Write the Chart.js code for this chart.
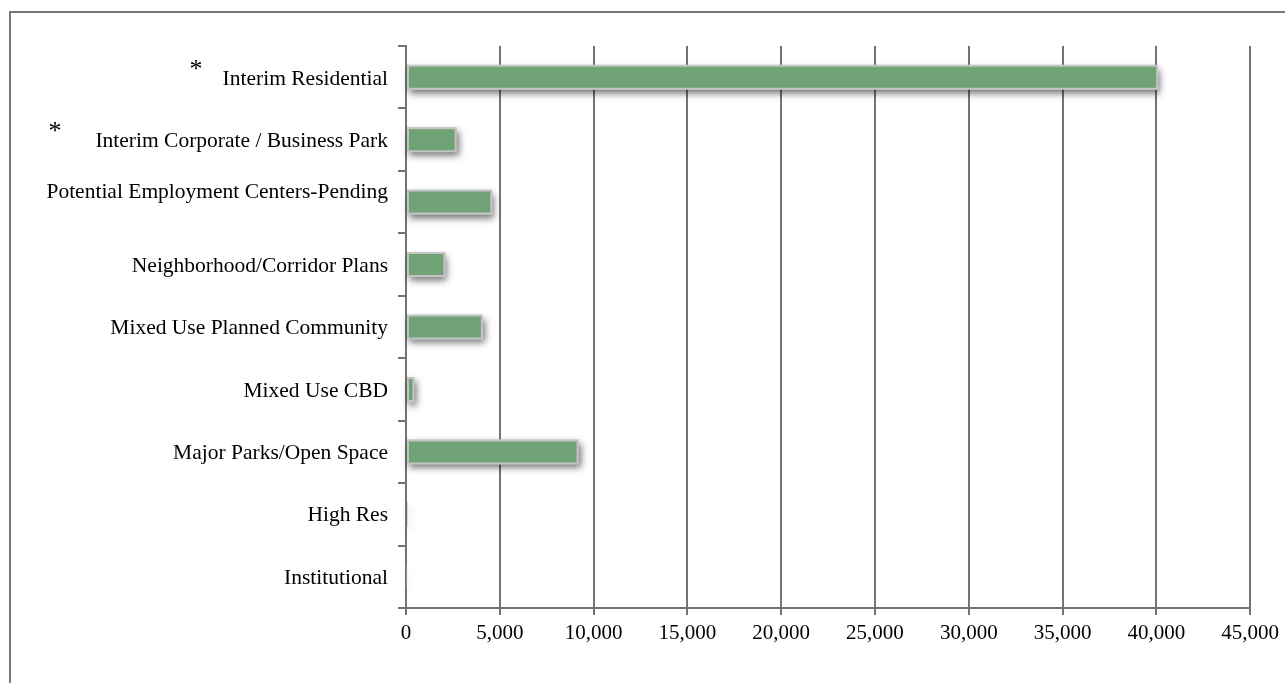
<!DOCTYPE html>
<html>
<head>
<meta charset="utf-8">
<script src="https://cdn.jsdelivr.net/npm/chart.js@4"></script>
<style>
  html, body { margin: 0; padding: 0; background: #fff; overflow: hidden; }
  #wrap { position: relative; width: 1285px; height: 683px; }
  #frame { position: absolute; left: 9px; top: 11px; width: 2000px; height: 2000px; border: 2px solid #787878; box-sizing: border-box; }
  canvas { position: absolute; left: 0; top: 0; }
</style>
</head>
<body>
<div id="wrap">
  <div id="frame"></div>
  <canvas id="landUse" width="1285" height="683"></canvas>
</div>
<script>
const categories = [
  "Interim Residential",
  "Interim Corporate / Business Park",
  "Potential Employment Centers-Pending",
  "Neighborhood/Corridor Plans",
  "Mixed Use Planned Community",
  "Mixed Use CBD",
  "Major Parks/Open Space",
  "High Res",
  "Institutional"
];
const acres = [40100, 2700, 4600, 2100, 4100, 450, 9200, 80, 40];
const axisMax = 45000;
const axisStep = 5000;
const starred = [0, 1];

const axisGray = "#737373";
const serif = "'Liberation Serif', 'Times New Roman', serif";
const labelFont = "21.5px " + serif;

// drop shadow drawn under each bar (the bar itself clips its own shadow)
const barShadow = {
  id: "barShadow",
  beforeDatasetsDraw(chart) {
    const ctx = chart.ctx;
    ctx.save();
    ctx.shadowColor = "rgba(0,0,0,0.55)";
    ctx.shadowBlur = 7;
    ctx.shadowOffsetX = 2;
    ctx.shadowOffsetY = 4;
    ctx.fillStyle = "#c4c4c4";
    chart.getDatasetMeta(0).data.forEach(bar => {
      const p = bar.getProps(["x", "y", "base", "height"], true);
      ctx.fillRect(p.base, p.y - p.height / 2, p.x - p.base, p.height);
    });
    ctx.restore();
  }
};

// category labels, with the odd nudges the original has
const labelNudge = [2, 2, -9.5, 1.5, 1.5, 1.5, 1.5, 1.5, 1.5];
const starX = [210, 351];
const sideLabels = {
  id: "sideLabels",
  afterDraw(chart) {
    const ctx = chart.ctx;
    const y = chart.scales.y;
    ctx.save();
    ctx.font = labelFont;
    ctx.fillStyle = "#000";
    ctx.textBaseline = "middle";
    ctx.textAlign = "right";
    categories.forEach((name, i) => {
      ctx.fillText(name, y.right - 18, y.getPixelForValue(i) + labelNudge[i]);
    });
    ctx.font = "26px " + serif;
    ctx.textAlign = "center";
    starred.forEach((idx, k) => {
      ctx.fillText("*", y.right - starX[k], y.getPixelForValue(idx) - 7);
    });
    ctx.restore();
  }
};

new Chart(document.getElementById("landUse"), {
  type: "bar",
  data: {
    labels: categories,
    datasets: [{
      data: acres,
      backgroundColor: "#6fa275",
      borderColor: "#c4c4c4",
      borderWidth: 2,
      borderSkipped: false,
      barPercentage: 0.4,
      categoryPercentage: 1.0
    }]
  },
  options: {
    indexAxis: "y",
    responsive: false,
    animation: false,
    layout: { padding: { left: 0, top: 46, right: 33, bottom: 0 } },
    plugins: { legend: { display: false }, tooltip: { enabled: false } },
    scales: {
      x: {
        min: 0,
        max: axisMax,
        ticks: {
          stepSize: axisStep,
          color: "#000",
          padding: 6,
          font: { family: serif, size: 21 },
          callback: v => v.toLocaleString("en-US")
        },
        grid: { color: axisGray, lineWidth: 2, tickLength: 7, tickColor: axisGray },
        border: { color: axisGray, width: 2 },
        afterFit(scale) { scale.height = 75; }
      },
      y: {
        ticks: { display: false },
        grid: { drawOnChartArea: false, color: axisGray, lineWidth: 2, tickLength: 8, offset: true },
        border: { color: axisGray, width: 2 },
        afterFit(scale) { scale.width = 406; }
      }
    }
  },
  plugins: [barShadow, sideLabels]
});
</script>
</body>
</html>
